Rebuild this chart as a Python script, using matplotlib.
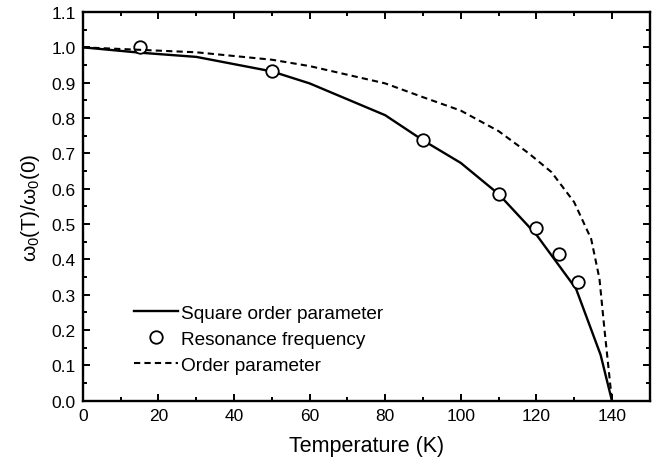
import matplotlib
matplotlib.use('Agg')
import matplotlib.pyplot as plt
from matplotlib.ticker import MultipleLocator, FormatStrFormatter

plt.rcParams['font.family'] = ['Liberation Sans', 'DejaVu Sans']
plt.rcParams['mathtext.fontset'] = 'custom'
plt.rcParams['mathtext.rm'] = 'Liberation Sans'
plt.rcParams['mathtext.it'] = 'Liberation Sans'

# square order parameter (solid)
t_sq = [0, 15, 30, 50, 60, 80, 90, 100, 110, 120, 130.5, 137, 140]
v_sq = [1.0, 0.985, 0.973, 0.932, 0.898, 0.808, 0.737, 0.673, 0.585, 0.47, 0.317, 0.13, 0.0]

# resonance frequency (circles)
t_res = [15, 50, 90, 110, 120, 126, 131]
v_res = [1.0, 0.932, 0.737, 0.586, 0.49, 0.415, 0.335]

# order parameter (dashed)
t_op = [0, 15, 30, 50, 60, 80, 90, 100, 110, 118, 124, 130, 134.5, 136.7, 138, 140]
v_op = [1.0, 0.993, 0.986, 0.965, 0.947, 0.898, 0.859, 0.821, 0.763, 0.70, 0.647, 0.562, 0.458, 0.345, 0.204, 0.0]

fig = plt.figure(figsize=(6.63, 4.64), dpi=100)
ax = fig.add_axes([0.125, 0.134, 0.855, 0.838])

ax.plot(t_sq, v_sq, color='black', linewidth=1.7, label='Square order parameter')
ax.plot(t_res, v_res, linestyle='none', marker='o', markersize=9,
        markerfacecolor='white', markeredgecolor='black', markeredgewidth=1.3,
        label='Resonance frequency')
ax.plot(t_op, v_op, color='black', linewidth=1.5, linestyle=(0, (3, 2)), label='Order parameter')

ax.set_xlim(0, 150)
ax.set_ylim(0, 1.1)
ax.xaxis.set_major_locator(MultipleLocator(20))
ax.xaxis.set_minor_locator(MultipleLocator(10))
ax.yaxis.set_major_locator(MultipleLocator(0.1))
ax.yaxis.set_minor_locator(MultipleLocator(0.05))
ax.yaxis.set_major_formatter(FormatStrFormatter('%.1f'))

ax.tick_params(which='both', direction='in', top=True, right=True, labelsize=12.5, width=1.4)
ax.tick_params(which='major', length=5, pad=5)
ax.tick_params(which='minor', length=3)
for s in ax.spines.values():
    s.set_linewidth(1.7)

ax.set_xlabel('Temperature (K)', fontsize=15.5, labelpad=9)
ax.set_ylabel(r'$\omega_0$(T)/$\omega_0$(0)', fontsize=15, labelpad=7)

ax.legend(loc='lower left', bbox_to_anchor=(0.09, 0.07), frameon=False, fontsize=13.7,
          handlelength=2.3, handletextpad=0.2, labelspacing=0.45, borderaxespad=0, borderpad=0)

plt.savefig('out.png', dpi=100)
plt.close()
